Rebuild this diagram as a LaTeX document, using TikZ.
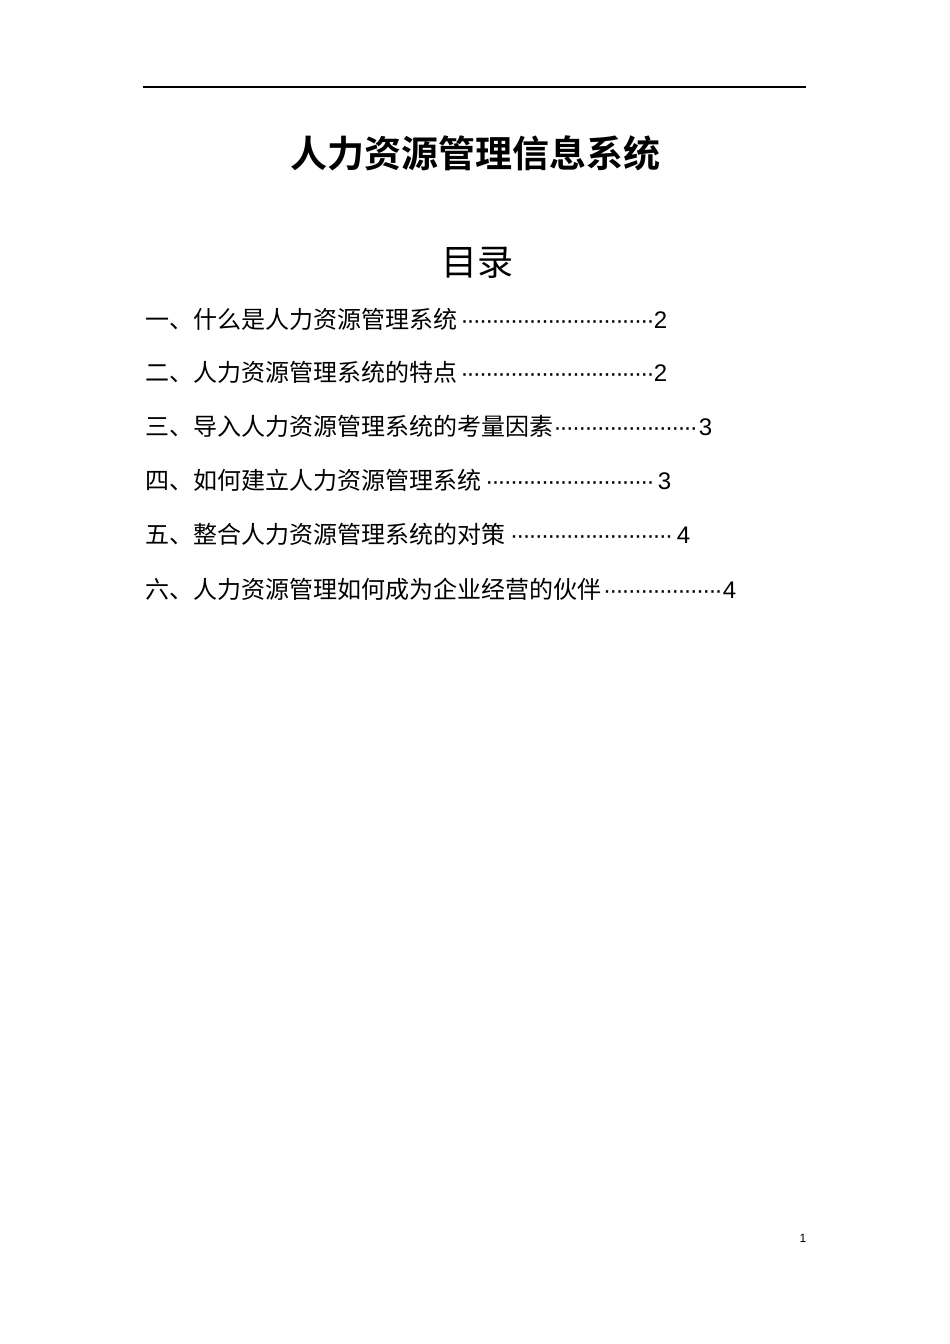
\documentclass[tikz,border=0pt]{standalone}
\usepackage{fontspec}
\newfontfamily\cjk{Noto Sans CJK SC}
\newfontfamily\cjkb{Noto Sans CJK SC Bold}
\newfontfamily\lat{Liberation Sans}
\newcommand{\tocline}[3]{\makebox[#1pt][l]{#2\leaders\hbox to 6.2pt{\hss\lat·\hss}\hfill{\lat #3}}}
\begin{document}
\begin{tikzpicture}[x=1pt,y=-1pt,
  toc/.style={anchor=west,inner sep=0pt,font=\fontsize{24}{24}\cjk}]
\useasboundingbox[fill=white] (0,0) rectangle (950,1344);
\draw[line width=1.2pt] (143,87) -- (806,87);
\node[inner sep=0pt,font=\fontsize{37}{37}\cjkb] (title) at (475,153) {人力资源管理信息系统};
\node[inner sep=0pt,font=\fontsize{36}{36}\cjk] (mulu) at (477,263) {目录};
\node[toc] (t1) at (145,319) {\tocline{522}{一、什么是人力资源管理系统}{2}};
\node[toc] (t2) at (145,372) {\tocline{522}{二、人力资源管理系统的特点}{2}};
\node[toc] (t3) at (145,426) {\tocline{567}{三、导入人力资源管理系统的考量因素}{3}};
\node[toc] (t4) at (145,480) {\tocline{526}{四、如何建立人力资源管理系统}{3}};
\node[toc] (t5) at (145,534) {\tocline{545}{五、整合人力资源管理系统的对策}{4}};
\node[toc] (t6) at (145,589) {\tocline{591}{六、人力资源管理如何成为企业经营的伙伴}{4}};
\node[inner sep=0pt,font=\fontsize{12}{12}\lat] (pg) at (803,1238) {1};
\end{tikzpicture}
\end{document}
